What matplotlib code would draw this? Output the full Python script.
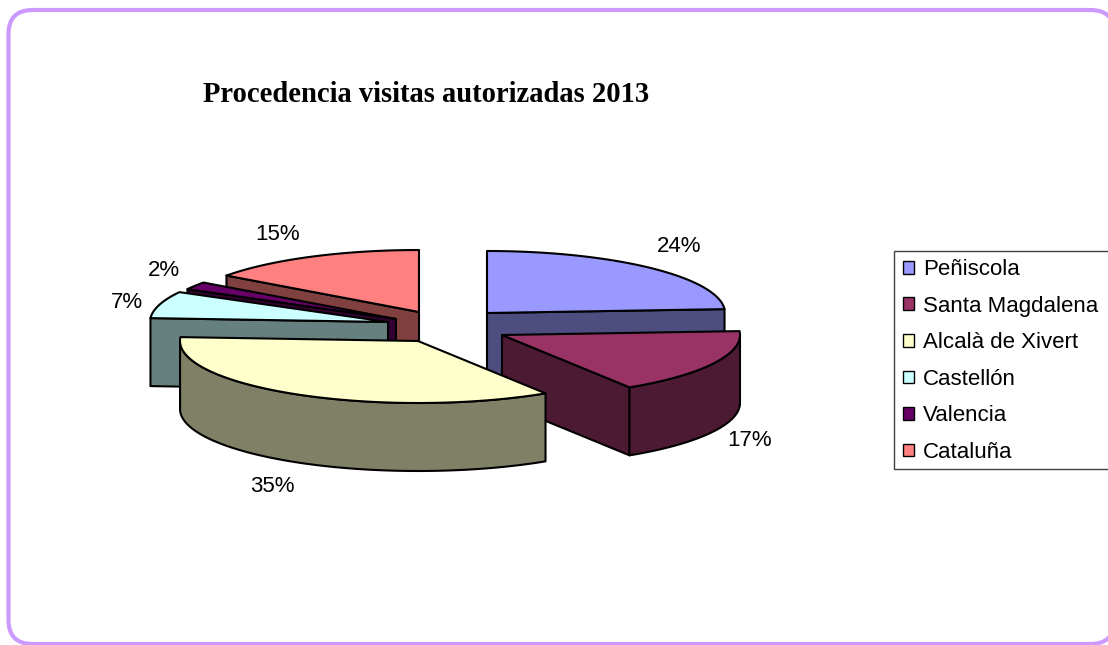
import numpy as np
import matplotlib
matplotlib.use('Agg')
import matplotlib.pyplot as plt
from matplotlib.patches import Polygon, Rectangle, FancyBboxPatch, Patch

title = 'Procedencia visitas autorizadas 2013'
zonas = ['Peñiscola', 'Santa Magdalena', 'Alcalà de Xivert', 'Castellón', 'Valencia', 'Cataluña']
valores = [24, 17, 35, 7, 2, 15]
colores = ['#9999FF', '#993366', '#FFFFCC', '#CCFFFF', '#660066', '#FF8080']

# layout in pixels of the picture
apex_x = [487, 502, 418, 388, 396, 419]
apex_y = [313, 335, 341, 322, 319, 312]
label_x = [679, 750, 272, 127, 164, 278]
label_y = [247, 440, 486, 303, 270, 235]
rx = 238
ry = 62
depth = 68
draw_order = [0, 1, 5, 4, 3, 2]


def oscuro(c):
    rgb = matplotlib.colors.to_rgb(c)
    return tuple(v * 0.5 for v in rgb)


fig = plt.figure(figsize=(11.08, 6.45), dpi=100)
ax = fig.add_axes([0, 0, 1, 1])
ax.set_xlim(0, 1108)
ax.set_ylim(645, 0)
ax.axis('off')

ax.add_patch(FancyBboxPatch((8.5, 10), 1106, 634, boxstyle='round,pad=0,rounding_size=24',
                            fc='white', ec='#CC99FF', lw=3))

ax.text(203, 95, title, family='Liberation Serif', weight='bold', fontsize=20.6,
        va='center', ha='left', color='black')

total = sum(valores)
fin = np.cumsum(valores) / total * 2 * np.pi
inicio = np.concatenate([[0], fin[:-1]])

for i in draw_order:
    a = np.linspace(inicio[i], fin[i], 80)
    x = apex_x[i] + rx * np.sin(a)
    y = apex_y[i] - ry * np.cos(a)
    lado = oscuro(colores[i])

    # wall on the start edge, only if it looks down
    if x[0] < apex_x[i]:
        ax.add_patch(Polygon([(apex_x[i], apex_y[i]), (x[0], y[0]), (x[0], y[0] + depth),
                              (apex_x[i], apex_y[i] + depth)], fc=lado, ec='black', lw=1.5, joinstyle='round'))
    # wall on the end edge
    if x[-1] > apex_x[i]:
        ax.add_patch(Polygon([(apex_x[i], apex_y[i]), (x[-1], y[-1]), (x[-1], y[-1] + depth),
                              (apex_x[i], apex_y[i] + depth)], fc=lado, ec='black', lw=1.5, joinstyle='round'))
    # outer rim, front half of the ellipse
    m = (a >= np.pi / 2) & (a <= 3 * np.pi / 2)
    if m.sum() > 1:
        rim = list(zip(x[m], y[m])) + list(zip(x[m][::-1], y[m][::-1] + depth))
        ax.add_patch(Polygon(rim, fc=lado, ec='black', lw=1.5, joinstyle='round'))
    # top face
    cara = [(apex_x[i], apex_y[i])] + list(zip(x, y))
    ax.add_patch(Polygon(cara, fc=colores[i], ec='black', lw=1.5, joinstyle='round'))

for v, lx, ly in zip(valores, label_x, label_y):
    ax.text(lx, ly, '%d%%' % v, family='Liberation Sans', fontsize=16, ha='center', va='center', color='black')

# legend box runs off the right side of the picture
ax.add_patch(Rectangle((893.5, 250.5), 230, 218, fc='white', ec='#404040', lw=1))
handles = [Patch(fc=c, ec='black', lw=1) for c in colores]
ax.legend(handles, zonas, loc='upper left', bbox_to_anchor=(896 / 1108, 1 - 252.5 / 645),
          frameon=False, prop={'family': 'Liberation Sans', 'size': 16},
          handlelength=0.5, handleheight=0.5, handletextpad=0.42,
          labelspacing=0.7, borderpad=0.3, borderaxespad=0)

fig.savefig('out.png', dpi=100)
